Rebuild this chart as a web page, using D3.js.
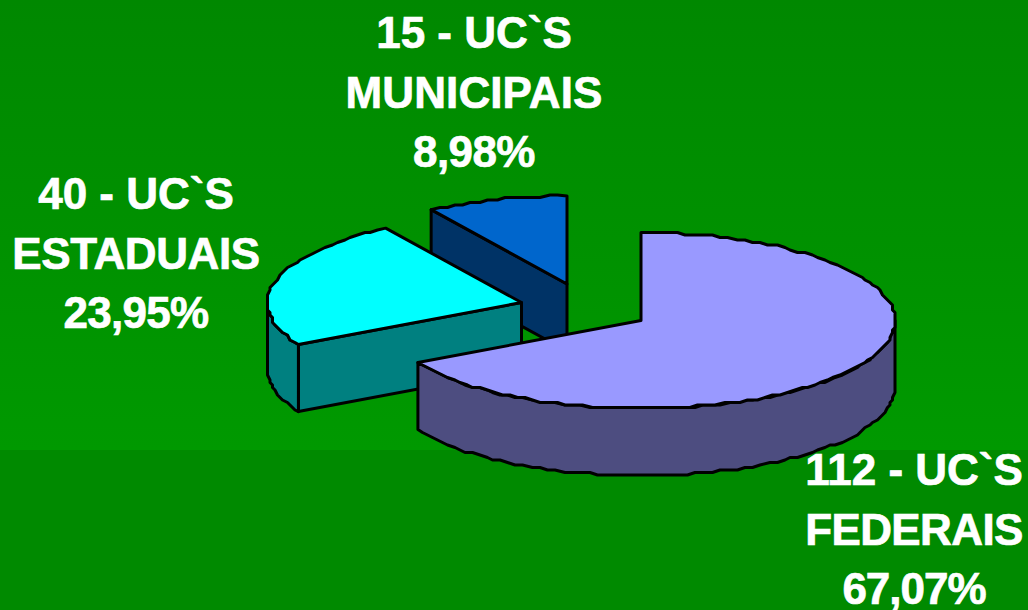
<!DOCTYPE html>
<html><head><meta charset="utf-8">
<script src="https://cdn.jsdelivr.net/npm/d3@7"></script>
<style>html,body{margin:0;padding:0;background:#008a00;overflow:hidden}svg{display:block}
text{font-family:"Liberation Sans",Arial,sans-serif;font-weight:700;fill:#fff;stroke:#fff;stroke-width:.7px;font-size:44px;text-anchor:middle}</style>
</head><body><svg id="c" width="1028" height="610"></svg>
<script>
const categories = ["FEDERAIS", "ESTADUAIS", "MUNICIPAIS"];
const counts = [112, 40, 15];
const percentLabels = ["67,07%", "23,95%", "8,98%"];
const countLabels = ["112 - UC`S", "40 - UC`S", "15 - UC`S"];
const topColors = ["#9999ff", "#00ffff", "#0066cc"];
const sideColors = ["#4d4d80", "#008080", "#003366"];
const apexes = [[641, 320.5], [521.5, 302.5], [567, 284]];
const labelCenters = [[914, 485], [136, 209], [474, 48]];
const lineSpacing = [[0, -0.6, -1], [0, -0.4, -0.7], [0, 0.1, -0.6]];
const labelGap = 59.5;
const rx = 254, ry = 88, depth = 67;

const svg = d3.select("#c");
const defs = svg.append("defs");
const g = defs.append("linearGradient").attr("id", "bg").attr("x1", 0).attr("x2", 0).attr("y1", 0).attr("y2", 1);
g.append("stop").attr("offset", 0).attr("stop-color", "#008800");
g.append("stop").attr("offset", 1).attr("stop-color", "#009900");
svg.append("rect").attr("width", 1028).attr("height", 450).attr("fill", "url(#bg)");
svg.append("rect").attr("y", 450).attr("width", 1028).attr("height", 160).attr("fill", "#008a00");

const arcs = d3.pie().sort(null)(counts);
const line = d3.line();
const snap = (v, s) => Math.round(v / s) * s;

function rim(a0, a1, c, dy) {
  const steps = Math.max(2, Math.round((a1 - a0) / 0.035));
  return d3.range(steps + 1).map(i => {
    const a = a0 + (a1 - a0) * i / steps;
    const x = c[0] + rx * Math.sin(a), y = c[1] - ry * Math.cos(a) + dy;
    const end = i === 0 || i === steps;
    return end ? [x, y] : [snap(x, 2.5), snap(y, 2.5)];
  });
}
const stroke = s => s.attr("stroke", "#000").attr("stroke-width", 3).attr("stroke-linejoin", "round");

[2, 1, 0].forEach(i => {
  const a = arcs[i], c = apexes[i], g = svg.append("g");
  const top = rim(a.startAngle, a.endAngle, c, 0);
  const A = top[0];
  // radial wall facing the viewer: only the two smaller slices show one
  if (i > 0) {
    g.append("path").call(stroke).attr("fill", sideColors[i])
      .attr("d", line([c, A, [A[0], A[1] + depth], [c[0], c[1] + depth]]) + "Z");
  }
  // outer curved wall, visible below the ellipse's horizontal axis
  const lo = Math.max(a.startAngle, Math.PI / 2), hi = Math.min(a.endAngle, 1.5 * Math.PI);
  if (hi > lo) {
    const up = rim(lo, hi, c, 0), down = rim(lo, hi, c, depth).reverse();
    g.append("path").call(stroke).attr("fill", sideColors[i]).attr("d", line(up.concat(down)) + "Z");
  }
  g.append("path").call(stroke).attr("fill", topColors[i]).attr("d", line([c].concat(top)) + "Z");
});

categories.forEach((cat, i) => {
  const t = svg.append("g");
  [countLabels[i], cat, percentLabels[i]].forEach((s, j) => {
    t.append("text").attr("x", labelCenters[i][0]).attr("y", labelCenters[i][1] + j * labelGap)
      .attr("letter-spacing", lineSpacing[i][j] + "px").text(s);
  });
});
</script></body></html>
